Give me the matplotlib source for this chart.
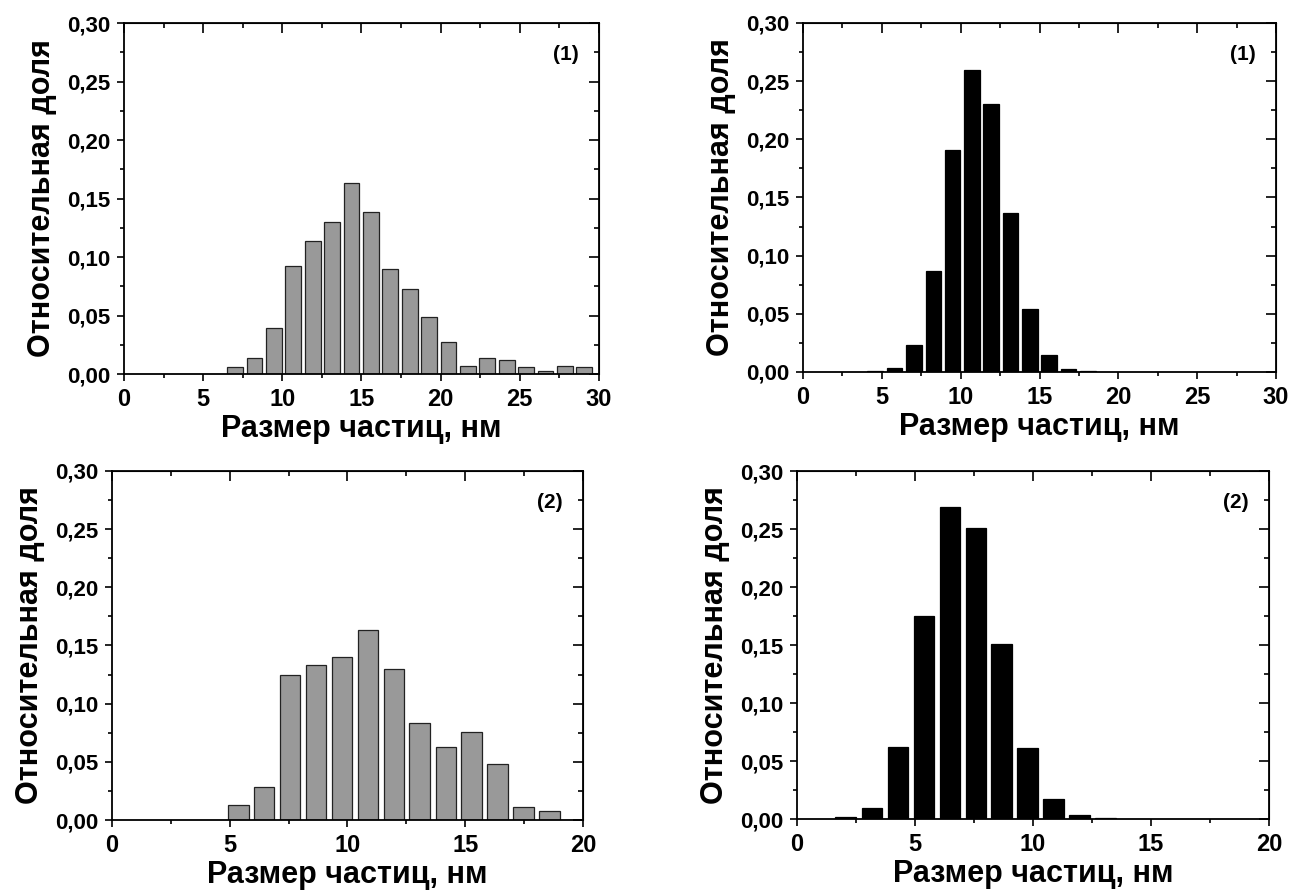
import matplotlib
matplotlib.use("Agg")
import matplotlib.pyplot as plt
from matplotlib.ticker import FuncFormatter, MultipleLocator

plt.rcParams["font.family"] = ["Liberation Sans", "DejaVu Sans"]
plt.rcParams["font.weight"] = "bold"

# bin centres (nm) and relative fractions
x_a1 = [7.01, 8.24, 9.46, 10.69, 11.93, 13.15, 14.37, 15.59, 16.82, 18.05,
        19.27, 20.49, 21.74, 22.95, 24.18, 25.41, 26.63, 27.85, 29.07]
y_a1 = [0.0057, 0.014, 0.039, 0.092, 0.1136, 0.1295, 0.163, 0.1386, 0.090, 0.0723,
        0.0487, 0.0276, 0.0068, 0.0134, 0.0122, 0.0057, 0.0028, 0.0071, 0.0063]

x_b1 = [4.55, 5.79, 7.02, 8.27, 9.47, 10.70, 11.93, 13.16, 14.39, 15.61, 16.84, 18.07]
y_b1 = [0.0005, 0.0034, 0.0229, 0.0872, 0.1907, 0.2597, 0.2299, 0.1364, 0.0543,
        0.0146, 0.0026, 0.0009]

x_a2 = [5.36, 6.46, 7.56, 8.66, 9.77, 10.87, 11.97, 13.07, 14.18, 15.28, 16.38,
        17.48, 18.59]
y_a2 = [0.0126, 0.0284, 0.1246, 0.1335, 0.1398, 0.1633, 0.1298, 0.0837, 0.0628,
        0.0754, 0.0481, 0.0109, 0.0074]

x_b2 = [2.07, 3.18, 4.28, 5.38, 6.48, 7.58, 8.68, 9.78, 10.88, 11.98, 13.07]
y_b2 = [0.0017, 0.0098, 0.0617, 0.1749, 0.2687, 0.2506, 0.1513, 0.0614, 0.0172,
        0.0034, 0.0009]

XLABEL = "Размер частиц, нм"
YLABEL = "Относительная доля"

panels = [
    # (axes rect, x, y, bar width, xmax, fill, edge, tag)
    ([0.0961, 0.5807, 0.3682, 0.3935], x_a1, y_a1, 0.99, 30, "#999999", "#222222", "(1)"),
    ([0.6225, 0.5830, 0.3667, 0.3913], x_b1, y_b1, 0.99, 30, "black", "black", "(1)"),
    ([0.0868, 0.0807, 0.3651, 0.3913], x_a2, y_a2, 0.876, 20, "#999999", "#222222", "(2)"),
    ([0.6178, 0.0818, 0.3659, 0.3901], x_b2, y_b2, 0.876, 20, "black", "black", "(2)"),
]

comma = FuncFormatter(lambda v, pos: f"{v:.2f}".replace(".", ","))

fig = plt.figure(figsize=(12.9, 8.92), dpi=100)
for rect, xs, ys, w, xmax, fc, ec, tag in panels:
    ax = fig.add_axes(rect)
    ax.bar(xs, ys, width=w, color=fc, edgecolor=ec, linewidth=0.9, zorder=2)
    ax.set_xlim(0, xmax)
    ax.set_ylim(0, 0.30)
    ax.xaxis.set_major_locator(MultipleLocator(5))
    ax.xaxis.set_minor_locator(MultipleLocator(2.5))
    ax.yaxis.set_major_locator(MultipleLocator(0.05))
    ax.yaxis.set_minor_locator(MultipleLocator(0.025))
    ax.yaxis.set_major_formatter(comma)
    ax.tick_params(which="major", direction="out", length=5, width=1.2, labelsize=16, pad=5)
    ax.tick_params(which="minor", direction="out", length=3, width=1.2)
    ax.tick_params(axis="x", labelsize=17, pad=5)
    for lab in ax.get_xticklabels() + ax.get_yticklabels():
        lab.set_fontweight("bold")
    for sp in ax.spines.values():
        sp.set_linewidth(1.3)

    # Origin-style mirrored axes with inward ticks
    top = ax.secondary_xaxis("top")
    top.xaxis.set_major_locator(MultipleLocator(5))
    top.xaxis.set_minor_locator(MultipleLocator(2.5))
    top.tick_params(which="major", direction="in", length=7, width=1.2, labeltop=False)
    top.tick_params(which="minor", direction="in", length=3.5, width=1.2)
    right = ax.secondary_yaxis("right")
    right.yaxis.set_major_locator(MultipleLocator(0.05))
    right.yaxis.set_minor_locator(MultipleLocator(0.025))
    right.tick_params(which="major", direction="in", length=7, width=1.2, labelright=False)
    right.tick_params(which="minor", direction="in", length=3.5, width=1.2)

    ax.set_xlabel(XLABEL, fontsize=22, fontweight="bold", labelpad=2)
    ax.set_ylabel(YLABEL, fontsize=22, fontweight="bold", labelpad=7)
    ax.text(0.93, 0.91, tag, transform=ax.transAxes, ha="center", va="center",
            fontsize=15, fontweight="bold")

fig.savefig("out.png", dpi=100)
